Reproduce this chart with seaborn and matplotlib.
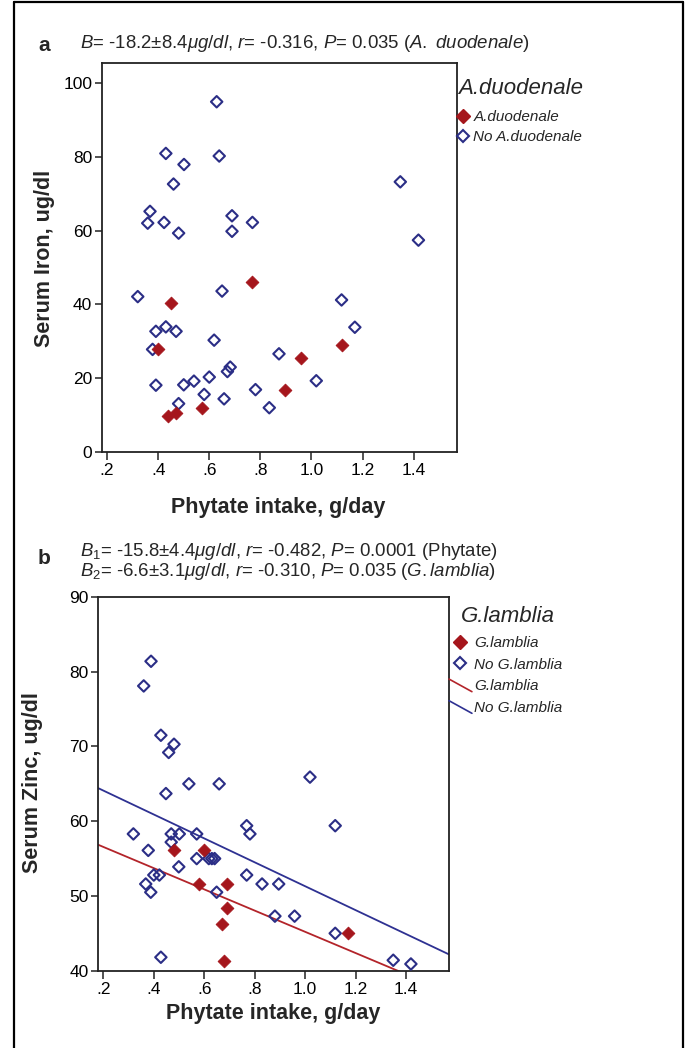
import numpy as np
import pandas as pd
import matplotlib
matplotlib.use("Agg")
import matplotlib.pyplot as plt
from matplotlib.lines import Line2D
from matplotlib.legend_handler import HandlerBase
import seaborn as sns

# ---------------- data ----------------
# Panel a: phytate intake (g/day) vs serum iron (ug/dl)
a_dd_x = [0.40, 0.45, 0.437, 0.471, 0.57, 0.768, 0.898, 0.959, 1.118]
a_dd_y = [27.8, 40.5, 9.8, 10.6, 12.0, 46.1, 16.8, 25.4, 29.0]
a_no_x = [0.629, 0.430, 0.639, 0.501, 0.460, 0.368, 0.359, 0.423, 0.480, 0.689, 0.689, 0.769,
          0.32, 0.650, 0.391, 0.430, 0.47, 0.378, 0.619, 0.873, 0.391, 0.48, 0.50, 0.54, 0.60,
          0.58, 0.658, 0.671, 0.682, 0.781, 0.835, 1.118, 1.17, 1.019, 1.348, 1.419]
a_no_y = [94.9, 80.9, 80.2, 77.9, 72.6, 65.2, 62.0, 62.2, 59.3, 64.0, 59.8, 62.2,
          42.1, 43.6, 32.7, 33.9, 32.7, 27.8, 30.3, 26.6, 18.1, 13.1, 18.2, 19.2, 20.3,
          15.6, 14.4, 21.8, 23.0, 16.9, 12.0, 41.2, 33.8, 19.3, 73.2, 57.4]

# Panel b: phytate intake (g/day) vs serum zinc (ug/dl)
b_gl_x = [0.479, 0.599, 0.578, 0.689, 0.689, 0.669, 0.678, 1.168]
b_gl_y = [56.1, 56.1, 51.6, 51.6, 48.4, 46.2, 41.3, 45.0]
b_no_x = [0.389, 0.36, 0.428, 0.48, 0.459, 0.539, 0.659, 0.448, 0.319, 0.469, 0.501, 0.57,
          0.469, 0.378, 0.57, 0.618, 0.630, 0.641, 0.499, 0.40, 0.422, 0.368, 0.388,
          0.649, 0.428, 0.768, 0.781, 0.768, 0.829, 0.895, 0.88, 0.958, 1.019, 1.119, 1.119,
          1.349, 1.419]
b_no_y = [81.4, 78.1, 71.5, 70.3, 69.2, 65.0, 65.0, 63.7, 58.3, 58.3, 58.3, 58.3,
          57.2, 56.1, 55.0, 55.0, 55.0, 55.0, 53.9, 52.8, 52.8, 51.6, 50.5,
          50.5, 41.8, 59.4, 58.3, 52.8, 51.6, 51.6, 47.3, 47.3, 65.9, 59.4, 45.0,
          41.4, 40.9]

# fitted lines in panel b (intercept, slope)
fit_groups = ["G.lamblia", "No G.lamblia"]
fit_intercepts = [59.4, 67.3]
fit_slopes = [-14.2, -16.0]

x_ticks = [0.2, 0.4, 0.6, 0.8, 1.0, 1.2, 1.4]
x_ticklabels = [".2", ".4", ".6", ".8", "1.0", "1.2", "1.4"]
a_yticks = [0, 20, 40, 60, 80, 100]
b_yticks = [40, 50, 60, 70, 80, 90]

RED = "#A5161C"
BLUE = "#2B2E86"
RED_LINE = "#B3242A"
BLUE_LINE = "#2E3192"

# ---------------- style ----------------
sns.set_theme(style="ticks")
plt.rcParams["font.family"] = ["Liberation Sans", "DejaVu Sans"]
plt.rcParams["mathtext.fontset"] = "custom"
plt.rcParams["mathtext.rm"] = "Liberation Sans"
plt.rcParams["mathtext.it"] = "Liberation Sans:italic"
plt.rcParams["mathtext.bf"] = "Liberation Sans:bold"

W, H = 685, 1048
fig = plt.figure(figsize=(W / 100, H / 100), dpi=100)


def fbox(l, t, r, b):
    return [l / W, 1 - b / H, (r - l) / W, (b - t) / H]


ax_a = fig.add_axes(fbox(102, 63, 457, 452))
ax_b = fig.add_axes(fbox(98.3, 597, 449, 970.7))

MS = 34


def scat(ax, x, y, filled):
    if filled:
        sns.scatterplot(x=x, y=y, ax=ax, marker="D", s=MS * 1.25, color=RED,
                        edgecolor=RED, linewidth=0.6, zorder=3)
    else:
        sns.scatterplot(x=x, y=y, ax=ax, marker="D", s=MS, color=BLUE,
                        facecolor="none", edgecolor=BLUE, linewidth=1.5, zorder=3)


scat(ax_a, a_no_x, a_no_y, False)
scat(ax_a, a_dd_x, a_dd_y, True)
scat(ax_b, b_no_x, b_no_y, False)
scat(ax_b, b_gl_x, b_gl_y, True)

xlim = (0.18, 1.57)
fit_x = np.array(xlim)
for g, b0, b1, col in zip(fit_groups, fit_intercepts, fit_slopes, [RED_LINE, BLUE_LINE]):
    sns.lineplot(x=fit_x, y=b0 + b1 * fit_x, ax=ax_b, color=col, linewidth=1.3, zorder=2)

for ax, yt, ylim in [(ax_a, a_yticks, (0, 105.4)), (ax_b, b_yticks, (40, 90))]:
    ax.set_xlim(*xlim)
    ax.set_ylim(*ylim)
    ax.set_xticks(x_ticks)
    ax.set_xticklabels(x_ticklabels)
    ax.set_yticks(yt)
    ax.set_yticklabels([str(v) for v in yt])
    for s in ax.spines.values():
        s.set_visible(True)
        s.set_linewidth(1.3)
        s.set_color("#222222")
    ax.tick_params(axis="both", direction="out", length=6, width=1.1, labelsize=12.5,
                   color="#222222", labelcolor="black", pad=2)
    ax.tick_params(axis="y", length=5)
    ax.set_facecolor("white")

ax_a.set_xlabel("Phytate intake, g/day", fontsize=15.5, fontweight="bold")
ax_a.set_ylabel("Serum Iron, ug/dl", fontsize=15.5, fontweight="bold")
ax_b.set_xlabel("Phytate intake, g/day", fontsize=15.5, fontweight="bold")
ax_b.set_ylabel("Serum Zinc, ug/dl", fontsize=15.5, fontweight="bold")
ax_a.xaxis.set_label_coords(0.5 + (278 - 279.5) / 355, -(497 - 452) / 389)
ax_a.yaxis.set_label_coords(-(102 - 55) / 355, (452 - 258) / 389)
ax_b.xaxis.set_label_coords(0.5 + (273 - 273.6) / 350.7, -(1003 - 970.7) / 373.7)
ax_b.yaxis.set_label_coords(-(98.3 - 43) / 350.7, (970.7 - 783) / 373.7)

# ---------------- legends ----------------


class HandlerSlant(HandlerBase):
    def create_artists(self, legend, orig_handle, xdescent, ydescent, width, height,
                       fontsize, trans):
        line = Line2D([-xdescent, -xdescent + width],
                      [height * 1.05, height * 0.0 - 1],
                      color=orig_handle.get_color(), linewidth=orig_handle.get_linewidth(),
                      transform=trans)
        return [line]


h_fill_a = Line2D([], [], linestyle="none", marker="D", markersize=7.5,
                  markerfacecolor=RED, markeredgecolor=RED)
h_open_a = Line2D([], [], linestyle="none", marker="D", markersize=6.5,
                  markerfacecolor="none", markeredgecolor=BLUE, markeredgewidth=1.5)
leg_a = ax_a.legend([h_fill_a, h_open_a], ["A.duodenale", "No A.duodenale"],
                    loc="upper left", bbox_to_anchor=(455 / W, 1 - 110 / H),
                    bbox_transform=fig.transFigure, frameon=False, borderpad=0,
                    borderaxespad=0, handlelength=1.0, handletextpad=0.2,
                    labelspacing=0.42, prop={"style": "italic", "size": 11})
fig.text(458 / W, 1 - 88 / H, "A.duodenale", fontsize=16, style="italic",
         ha="left", va="center")

h_l_red = Line2D([], [], color=RED_LINE, linewidth=1.2)
h_l_blue = Line2D([], [], color=BLUE_LINE, linewidth=1.2)
leg_b = ax_b.legend([h_fill_a, h_open_a, h_l_red, h_l_blue],
                    ["G.lamblia", "No G.lamblia", "G.lamblia", "No G.lamblia"],
                    loc="upper left", bbox_to_anchor=(449 / W, 1 - 636 / H),
                    bbox_transform=fig.transFigure, frameon=False, borderpad=0,
                    borderaxespad=0, handlelength=1.5, handletextpad=0.15,
                    labelspacing=0.5, prop={"style": "italic", "size": 11},
                    handler_map={h_l_red: HandlerSlant(), h_l_blue: HandlerSlant()})
fig.text(461 / W, 1 - 616 / H, "G.lamblia", fontsize=16, style="italic",
         ha="left", va="center")

# ---------------- titles ----------------
fig.text(38 / W, 1 - 45 / H, "a", fontsize=15, fontweight="bold", ha="left", va="center")
fig.text(80 / W, 1 - 44 / H,
         r"$\mathit{B}$= -18.2±8.4$\mathit{μg/dl}$, $\mathit{r}$= -0.316, "
         r"$\mathit{P}$= 0.035 ($\mathit{A.\ duodenale}$)",
         fontsize=13.4, ha="left", va="center")

fig.text(38 / W, 1 - 558 / H, "b", fontsize=15, fontweight="bold", ha="left", va="center")
fig.text(80 / W, 1 - 551 / H,
         r"$\mathit{B}_{1}$= -15.8±4.4$\mathit{μg/dl}$, $\mathit{r}$= -0.482, "
         r"$\mathit{P}$= 0.0001 (Phytate)",
         fontsize=13.4, ha="left", va="center")
fig.text(80 / W, 1 - 572 / H,
         r"$\mathit{B}_{2}$= -6.6±3.1$\mathit{μg/dl}$, $\mathit{r}$= -0.310, "
         r"$\mathit{P}$= 0.035 ($\mathit{G.lamblia}$)",
         fontsize=13.4, ha="left", va="center")

# outer frame
fr = dict(transform=fig.transFigure, color="black", linewidth=1.6)
fig.add_artist(Line2D([14 / W, 14 / W], [0, 1 - 2 / H], **fr))
fig.add_artist(Line2D([14 / W, 683 / W], [1 - 2 / H, 1 - 2 / H], **fr))
fig.add_artist(Line2D([683 / W, 683 / W], [1 - 2 / H, 0], **fr))

fig.savefig("out.png", dpi=100, facecolor="white")
